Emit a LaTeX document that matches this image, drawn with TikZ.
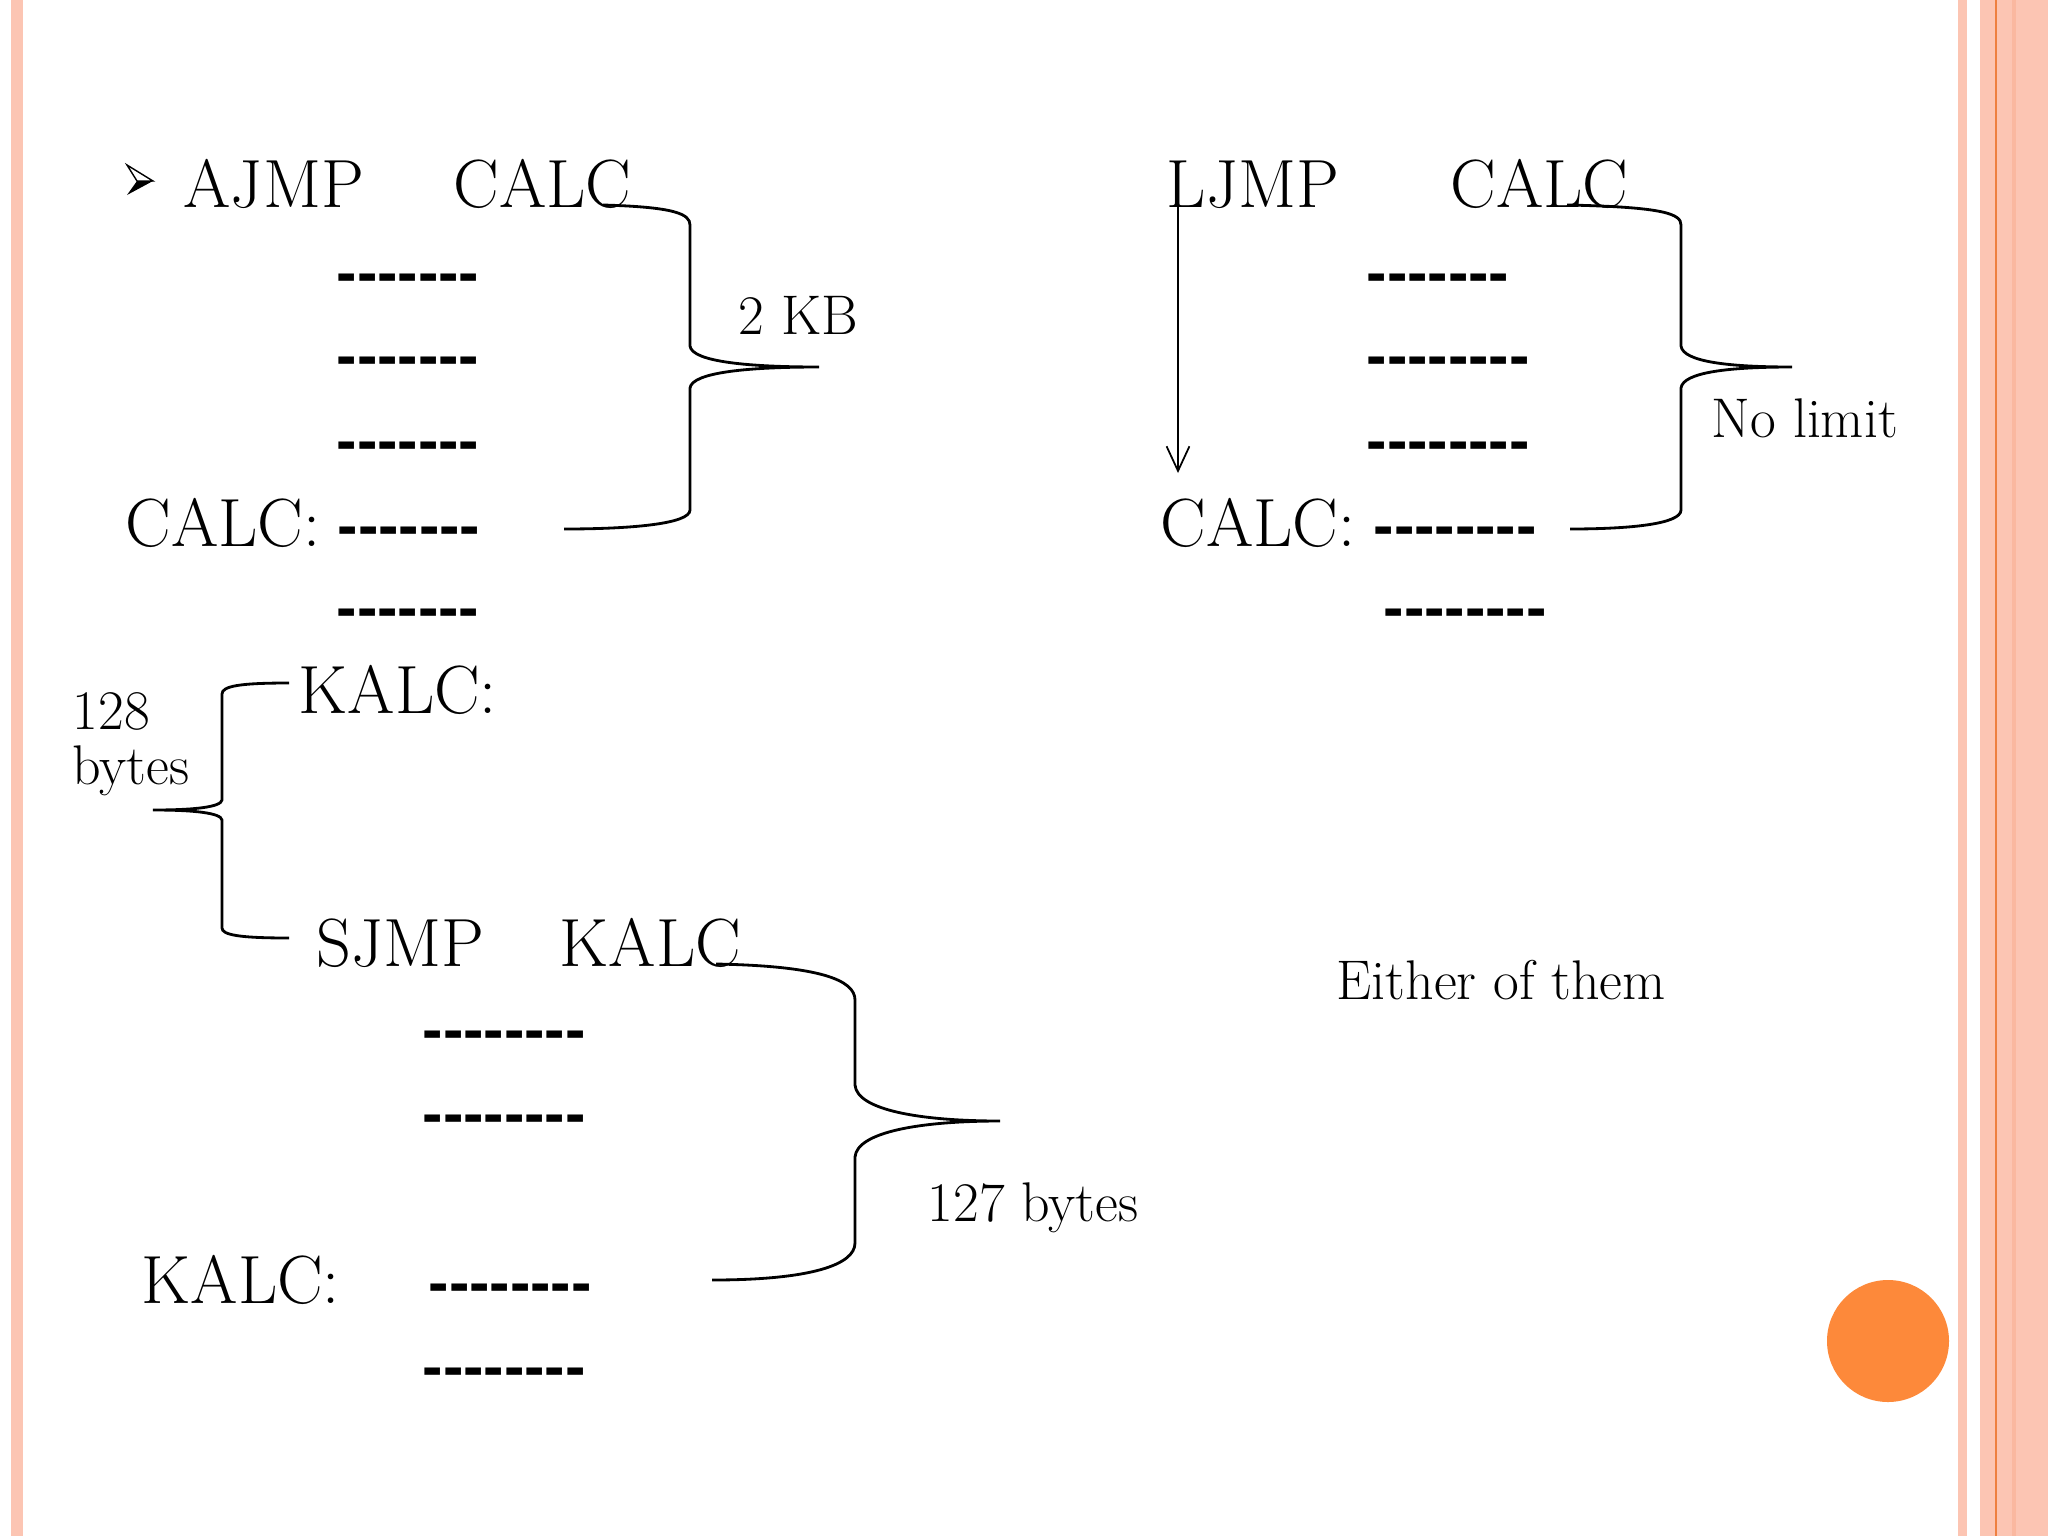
\documentclass[tikz,border=0pt]{standalone}
\usepackage{fontspec}
\newfontfamily\dashfont{Liberation Sans}
\usetikzlibrary{arrows.meta}

\definecolor{stripe}{RGB}{252,197,179}
\definecolor{stripedeep}{RGB}{250,184,160}
\definecolor{stripedark}{RGB}{238,128,64}
\definecolor{dotorange}{RGB}{253,137,58}

\tikzset{
  big/.style={inner sep=0pt, anchor=base west, font=\fontsize{19.4}{23}\selectfont},
  small/.style={inner sep=0pt, anchor=base west, font=\fontsize{15.9}{15.6}\selectfont},
  filler/.style={inner sep=0pt, anchor=base west, font=\dashfont\bfseries\fontsize{17.4}{20}\selectfont},
  brace/.style={line width=0.8pt},
}
\newcommand{\hyph}[1]{\foreach \k in {1,...,#1}{-\kern0pt}}

\begin{document}
\begin{tikzpicture}[x=0.01cm,y=-0.01cm]

\useasboundingbox (0,0) rectangle (2048,1536);
\fill[white] (0,0) rectangle (2048,1536);
\fill[stripe] (11,0) rectangle (23,1536);
\fill[stripe] (1958,0) rectangle (1967,1536);
\fill[stripe] (1980,0) rectangle (2048,1536);
\fill[stripedeep] (2012,0) rectangle (2016,1536);
\fill[stripedark] (1995,0) rectangle (1997,1536);
\fill[dotorange] (1888,1341) circle (61);

% bullet
\draw[line width=0.4pt] (127,165) -- (153,181) -- (137,181) -- cycle;
\fill (137,181) -- (153,181) -- (127,195) -- cycle;

% AJMP
  \node[big] (ajmp) at (183,207) {AJMP};
  \node[big] (calca) at (453,207) {CALC};
  \node[filler] (la1) at (336,293) {\hyph{7}};
  \node[filler] (la2) at (336,376) {\hyph{7}};
  \node[filler] (la3) at (336,461) {\hyph{7}};
  \node[big] (calcalbl) at (125,546) {CALC:};
  \node[filler] (la4) at (337,546) {\hyph{7}};
  \node[filler] (la5) at (336,628) {\hyph{7}};
  \node[small] (kb) at (738,334) {2 KB};

% LJMP
  \node[big] (ljmp) at (1166,207) {LJMP};
  \node[big] (calcb) at (1450,207) {CALC};
  \node[filler] (lb1) at (1366,293) {\hyph{7}};
  \node[filler] (lb2) at (1366,376) {\hyph{8}};
  \node[filler] (lb3) at (1366,461) {\hyph{8}};
  \node[big] (calcblbl) at (1160,546) {CALC:};
  \node[filler] (lb4) at (1373,546) {\hyph{8}};
  \node[filler] (lb5) at (1383,628) {\hyph{8}};
  \node[small] (nolimit) at (1711,437) {No limit};

% SJMP
  \node[big] (kalclbl) at (298,713) {KALC:};
  \node[small, align=left] (b128) at (72,784) {128\\bytes};
  \node[big] (sjmp) at (316,966) {SJMP};
  \node[big] (kalc) at (559,966) {KALC};
  \node[filler] (lc1) at (422,1050) {\hyph{8}};
  \node[filler] (lc2) at (422,1134) {\hyph{8}};
  \node[big] (kalclblb) at (141,1303) {KALC:};
  \node[filler] (lc3) at (428,1303) {\hyph{8}};
  \node[filler] (lc4) at (422,1387) {\hyph{8}};
  \node[small] (b127) at (927,1221) {127 bytes};

  \node[small] (either) at (1336,999) {Either of them};

% braces
  \draw[brace] (603,205) .. controls (675,207) and (690,214) .. (690,225) -- (690,346)
     .. controls (692,362) and (750,367) .. (819,367) .. controls (750,367) and (692,372) .. (690,388)
     -- (690,510) .. controls (690,524) and (630,529) .. (564,529);
  \draw[brace] (1567,205) .. controls (1665,207) and (1681,214) .. (1681,225) -- (1681,346)
     .. controls (1683,362) and (1730,367) .. (1792,367) .. controls (1730,367) and (1683,372) .. (1681,388)
     -- (1681,510) .. controls (1681,524) and (1630,529) .. (1570,529);
  \draw[brace] (289,683) .. controls (240,683) and (222,686) .. (222,694) -- (222,800)
     .. controls (221,807) and (195,810) .. (153,810) .. controls (195,810) and (221,813) .. (222,820)
     -- (222,928) .. controls (222,935) and (240,938) .. (289,938);
  \draw[brace] (716,964) .. controls (820,966) and (855,980) .. (855,1000) -- (855,1085)
     .. controls (857,1110) and (920,1121) .. (1000,1121) .. controls (920,1121) and (857,1132) .. (855,1157)
     -- (855,1243) .. controls (855,1265) and (810,1280) .. (712,1280);

  \coordinate (jmpend) at (1178,473);
  \draw[-{Straight Barb[length=7pt,width=6.5pt]}, line width=0.5pt] (ljmp.base west -| jmpend) -- (jmpend);

\end{tikzpicture}
\end{document}
